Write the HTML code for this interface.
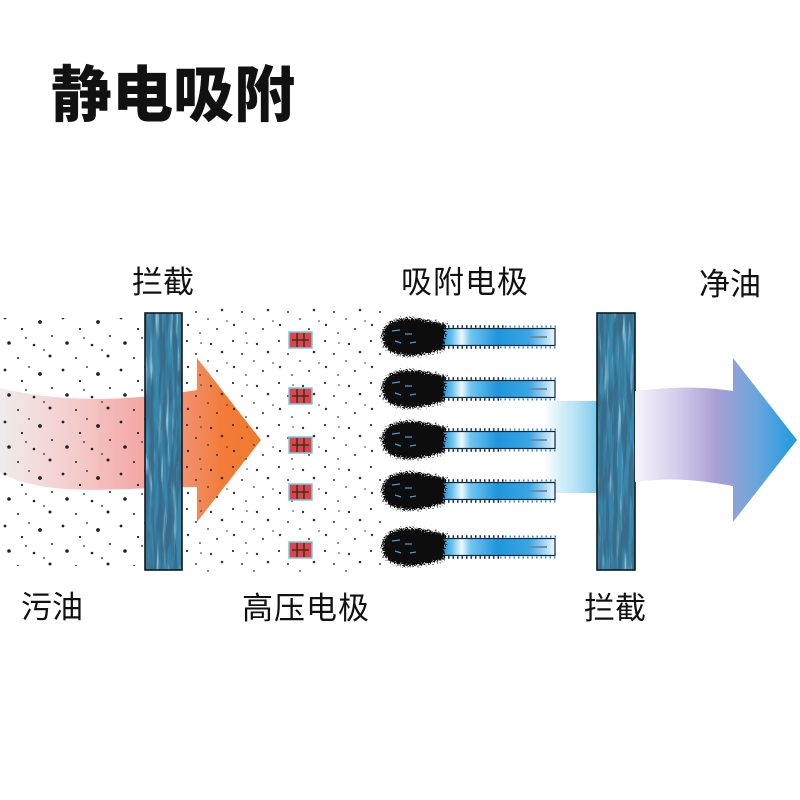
<!DOCTYPE html>
<html><head><meta charset="utf-8"><style>
html,body{margin:0;padding:0;background:#fff;}
svg{display:block;}
text{font-family:"Liberation Sans","Noto Sans CJK SC",sans-serif;fill:#111;}
</style></head><body>
<svg width="800" height="800" viewBox="0 0 800 800" xmlns="http://www.w3.org/2000/svg">
<defs>
  <linearGradient id="pinkorange" gradientUnits="userSpaceOnUse" x1="0" y1="0" x2="262" y2="0">
    <stop offset="0" stop-color="#f0ebeb"/>
    <stop offset="0.3" stop-color="#f5caca"/>
    <stop offset="0.55" stop-color="#f4a6a4"/>
    <stop offset="0.72" stop-color="#f38e6a"/>
    <stop offset="0.85" stop-color="#f27c38"/>
    <stop offset="1" stop-color="#f07a2c"/>
  </linearGradient>
  <linearGradient id="rightarrow" gradientUnits="userSpaceOnUse" x1="635" y1="0" x2="797" y2="0">
    <stop offset="0" stop-color="#f6f3fb"/>
    <stop offset="0.25" stop-color="#d6cfee"/>
    <stop offset="0.5" stop-color="#aa9fd4"/>
    <stop offset="0.75" stop-color="#6aa6dc"/>
    <stop offset="1" stop-color="#1c9ae0"/>
  </linearGradient>
  <linearGradient id="cyanband" gradientUnits="userSpaceOnUse" x1="545" y1="0" x2="598" y2="0">
    <stop offset="0" stop-color="#8dd2ee" stop-opacity="0"/>
    <stop offset="0.5" stop-color="#a6dcf2" stop-opacity="0.7"/>
    <stop offset="1" stop-color="#78c8ea"/>
  </linearGradient>
  <linearGradient id="bar" gradientUnits="userSpaceOnUse" x1="427" y1="0" x2="555" y2="0">
    <stop offset="0" stop-color="#0d5a9a"/>
    <stop offset="0.1" stop-color="#1a88cf"/>
    <stop offset="0.2" stop-color="#6cc4ef"/>
    <stop offset="0.27" stop-color="#eef9ff"/>
    <stop offset="0.34" stop-color="#70c6f0"/>
    <stop offset="0.55" stop-color="#1f95dc"/>
    <stop offset="0.8" stop-color="#3aa6e4"/>
    <stop offset="1" stop-color="#eef8ff"/>
  </linearGradient>
  <pattern id="dotsA" patternUnits="userSpaceOnUse" width="46" height="42">
    <g fill="#333">
      <circle cx="3" cy="5" r="1.1"/><circle cx="27" cy="8" r="1.2"/>
      <circle cx="12" cy="18" r="1.0"/><circle cx="38" cy="16" r="1.3"/>
      <circle cx="24" cy="25" r="0.9"/><circle cx="4" cy="31" r="1.2"/>
      <circle cx="33" cy="35" r="1.0"/><circle cx="16" cy="39" r="0.9"/>
      <circle cx="43" cy="27" r="0.8"/><circle cx="17" cy="7" r="0.8"/>
    </g>
  </pattern>
  <pattern id="dotsB" patternUnits="userSpaceOnUse" width="58" height="52">
    <g fill="#222">
      <circle cx="5" cy="6" r="1.4"/><circle cx="40" cy="10" r="1.9"/>
      <circle cx="22" cy="17" r="1.1"/><circle cx="52" cy="24" r="1.0"/>
      <circle cx="9" cy="31" r="1.8"/><circle cx="34" cy="33" r="1.3"/>
      <circle cx="50" cy="44" r="1.5"/><circle cx="18" cy="46" r="1.0"/>
      <circle cx="29" cy="3" r="0.9"/><circle cx="44" cy="38" r="0.9"/>
      <circle cx="26" cy="26" r="0.9"/>
    </g>
  </pattern>
  <filter id="tex" x="0" y="0" width="100%" height="100%">
    <feTurbulence type="fractalNoise" baseFrequency="0.22 0.018" numOctaves="3" seed="5" result="n"/>
    <feColorMatrix in="n" type="matrix" values="0 0 0 0 0.04  0 0 0 0 0.15  0 0 0 0 0.26  4.6 0 0 0 -1.75" result="dark"/>
    <feTurbulence type="fractalNoise" baseFrequency="0.3 0.02" numOctaves="2" seed="11" result="n2"/>
    <feColorMatrix in="n2" type="matrix" values="0 0 0 0 0.45  0 0 0 0 0.78  0 0 0 0 0.9  2.5 0 0 0 -1.4" result="light"/>
    <feFlood flood-color="#3888ae" result="base"/>
    <feMerge><feMergeNode in="base"/><feMergeNode in="light"/><feMergeNode in="dark"/></feMerge>
  </filter>
  <filter id="fz" x="-30%" y="-50%" width="160%" height="200%">
    <feTurbulence type="fractalNoise" baseFrequency="0.7" numOctaves="2" seed="3"/>
    <feDisplacementMap in="SourceGraphic" scale="10" xChannelSelector="R" yChannelSelector="G"/>
  </filter>
  <g id="elec">
    <rect x="427" y="-8.5" width="128" height="17" fill="url(#bar)" stroke="#0a2540" stroke-width="1.2"/>
    <line x1="430" y1="-10.5" x2="505" y2="-10.5" stroke="#1a2a3a" stroke-width="2.5" stroke-dasharray="1.5 3"/>
    <line x1="505" y1="-10.5" x2="556" y2="-10.5" stroke="#3c8cc0" stroke-width="2" stroke-dasharray="1.5 3"/>
    <line x1="430" y1="10.5" x2="500" y2="10.5" stroke="#1a2a3a" stroke-width="2.5" stroke-dasharray="1.5 3"/>
    <line x1="500" y1="10.5" x2="556" y2="10.5" stroke="#3c8cc0" stroke-width="2" stroke-dasharray="1.5 3"/>
    <line x1="530" y1="0" x2="547" y2="0" stroke="#6f8ea6" stroke-width="2"/>
    <path d="M446,-13 L420,-18 C398,-21 382,-15 382,0 C382,15 398,21 420,18 L444,13 Z" fill="#111" filter="url(#fz)"/>
    <path d="M392,-6l8,-1M395,4l6,2M405,-3l7,0M410,6l6,-1" stroke="#4a9ad0" stroke-width="1.2" fill="none"/>
  </g>
  <g id="hv">
    <rect x="289" y="-8" width="23" height="16" fill="#e8404a" stroke="#6fd0e0" stroke-width="1.5"/>
    <path d="M297,-7v14M304,-7v14M292,0h17" stroke="#2a3a20" stroke-width="1.5" fill="none"/>
  </g>
</defs>

<!-- title -->
<text x="51" y="116" font-size="61" style="font-family:'Liberation Sans','Noto Sans CJK SC',sans-serif;font-weight:900">静电吸附</text>

<!-- labels -->
<text x="132" y="293" font-size="31">拦截</text>
<text x="401" y="293" font-size="31" letter-spacing="1">吸附电极</text>
<text x="699" y="295" font-size="31">净油</text>
<text x="21" y="618" font-size="31">污油</text>
<text x="242" y="619" font-size="31" letter-spacing="1">高压电极</text>
<text x="584" y="619" font-size="31">拦截</text>

<!-- left pink band + orange arrow -->
<path d="M0,388 C50,400 110,404 197,390 L197,358 L261,440 L197,522 L197,487 C110,488 50,498 0,473 Z" fill="url(#pinkorange)"/>

<!-- dots -->
<rect x="0" y="318" width="146" height="248" fill="url(#dotsB)"/>
<rect x="183" y="308" width="200" height="264" fill="url(#dotsA)"/>

<!-- left filter -->
<rect x="145" y="313" width="37" height="257" filter="url(#tex)"/>
<rect x="145" y="313" width="37" height="257" fill="none" stroke="#0d1a22" stroke-width="1.6"/>

<!-- HV boxes -->
<use href="#hv" transform="translate(0,340)"/>
<use href="#hv" transform="translate(0,396)"/>
<use href="#hv" transform="translate(0,445)"/>
<use href="#hv" transform="translate(0,492)"/>
<use href="#hv" transform="translate(0,550)"/>

<!-- cyan band -->
<rect x="545" y="401" width="53" height="92" fill="url(#cyanband)"/>

<!-- collecting electrodes -->
<use href="#elec" transform="translate(0,337)"/>
<use href="#elec" transform="translate(0,389)"/>
<use href="#elec" transform="translate(0,440)"/>
<use href="#elec" transform="translate(0,491)"/>
<use href="#elec" transform="translate(0,547)"/>

<!-- right filter -->
<rect x="597" y="313" width="38" height="257" filter="url(#tex)"/>
<rect x="597" y="313" width="38" height="257" fill="none" stroke="#0d1a22" stroke-width="1.6"/>

<!-- right arrow -->
<path d="M635,391 C670,387 700,386 733,391 L733,358 L797,440 L733,522 L733,486 C700,480 670,477 635,482 Z" fill="url(#rightarrow)"/>
</svg>
</body></html>
